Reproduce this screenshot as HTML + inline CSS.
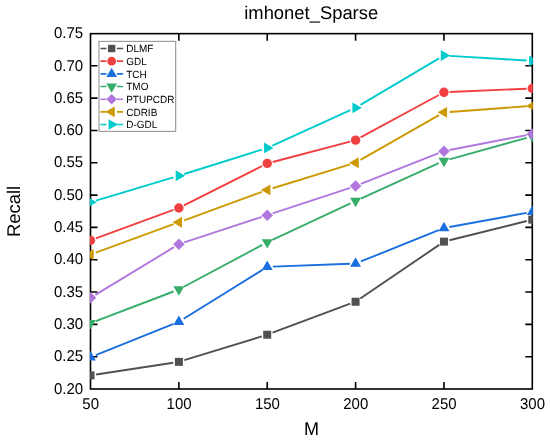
<!DOCTYPE html>
<html><head><meta charset="utf-8"><style>
html,body{margin:0;padding:0;background:#fff;}
svg{display:block;will-change:transform;text-rendering:geometricPrecision;font-family:"Liberation Sans",sans-serif;}
</style></head><body>
<svg width="550" height="440" viewBox="0 0 550 440">
<rect width="550" height="440" fill="#fff"/>
<defs><clipPath id="c"><rect x="89.95" y="32.95" width="442.90" height="356.60"/></clipPath></defs>
<rect x="90.5" y="33.65" width="441.80" height="355.35" fill="none" stroke="#000" stroke-width="1.6"/>
<path d="M178.86 389.0V382.0M178.86 33.65V40.65" stroke="#000" stroke-width="1.6"/>
<path d="M267.22 389.0V382.0M267.22 33.65V40.65" stroke="#000" stroke-width="1.6"/>
<path d="M355.58 389.0V382.0M355.58 33.65V40.65" stroke="#000" stroke-width="1.6"/>
<path d="M443.94 389.0V382.0M443.94 33.65V40.65" stroke="#000" stroke-width="1.6"/>
<path d="M90.5 356.68H97.5M532.3 356.68H525.3" stroke="#000" stroke-width="1.6"/>
<path d="M90.5 324.36H97.5M532.3 324.36H525.3" stroke="#000" stroke-width="1.6"/>
<path d="M90.5 292.05H97.5M532.3 292.05H525.3" stroke="#000" stroke-width="1.6"/>
<path d="M90.5 259.73H97.5M532.3 259.73H525.3" stroke="#000" stroke-width="1.6"/>
<path d="M90.5 227.41H97.5M532.3 227.41H525.3" stroke="#000" stroke-width="1.6"/>
<path d="M90.5 195.09H97.5M532.3 195.09H525.3" stroke="#000" stroke-width="1.6"/>
<path d="M90.5 162.77H97.5M532.3 162.77H525.3" stroke="#000" stroke-width="1.6"/>
<path d="M90.5 130.45H97.5M532.3 130.45H525.3" stroke="#000" stroke-width="1.6"/>
<path d="M90.5 98.14H97.5M532.3 98.14H525.3" stroke="#000" stroke-width="1.6"/>
<path d="M90.5 65.82H97.5M532.3 65.82H525.3" stroke="#000" stroke-width="1.6"/>
<g clip-path="url(#c)">
<path d="M96.13 374.56L173.23 362.72M184.31 360.18L261.77 336.38M272.56 332.71L350.24 303.73M360.29 298.53L439.23 244.84M449.47 240.25L526.77 221.03" stroke="#515151" stroke-width="1.9" fill="none"/>
<rect x="86.50" y="371.43" width="8.00" height="8.00" fill="#515151"/>
<rect x="174.86" y="357.85" width="8.00" height="8.00" fill="#515151"/>
<rect x="263.22" y="330.71" width="8.00" height="8.00" fill="#515151"/>
<rect x="351.58" y="297.74" width="8.00" height="8.00" fill="#515151"/>
<rect x="439.94" y="237.63" width="8.00" height="8.00" fill="#515151"/>
<rect x="528.30" y="215.65" width="8.00" height="8.00" fill="#515151"/>
<path d="M95.85 238.38L173.51 209.98M183.95 205.45L262.13 165.99M272.73 161.97L350.07 141.60M360.59 137.44L438.93 95.03M449.63 92.07L526.61 88.69" stroke="#F14040" stroke-width="1.9" fill="none"/>
<circle cx="90.50" cy="240.34" r="4.7" fill="#F14040"/>
<circle cx="178.86" cy="208.02" r="4.7" fill="#F14040"/>
<circle cx="267.22" cy="163.42" r="4.7" fill="#F14040"/>
<circle cx="355.58" cy="140.15" r="4.7" fill="#F14040"/>
<circle cx="443.94" cy="92.32" r="4.7" fill="#F14040"/>
<circle cx="532.30" cy="88.44" r="4.7" fill="#F14040"/>
<path d="M95.79 355.20L173.57 323.91M183.70 318.77L262.38 269.85M272.92 266.63L349.88 263.81M360.87 261.48L438.65 230.18M449.55 227.03L526.69 212.92" stroke="#1A6FDF" stroke-width="1.9" fill="none"/>
<path d="M90.50 351.04L95.95 360.47L85.05 360.47Z" fill="#1A6FDF"/>
<path d="M178.86 315.49L184.31 324.92L173.41 324.92Z" fill="#1A6FDF"/>
<path d="M267.22 260.54L272.67 269.98L261.77 269.98Z" fill="#1A6FDF"/>
<path d="M355.58 257.31L361.03 266.75L350.13 266.75Z" fill="#1A6FDF"/>
<path d="M443.94 221.76L449.39 231.20L438.49 231.20Z" fill="#1A6FDF"/>
<path d="M532.30 205.60L537.75 215.04L526.85 215.04Z" fill="#1A6FDF"/>
<path d="M95.83 321.04L173.53 291.49M183.89 286.78L262.19 244.96M272.38 239.86L350.42 203.32M360.77 198.55L438.75 163.19M449.43 159.31L526.81 137.80" stroke="#37AD6B" stroke-width="1.9" fill="none"/>
<path d="M90.50 329.36L95.95 319.92L85.05 319.92Z" fill="#37AD6B"/>
<path d="M178.86 295.75L184.31 286.31L173.41 286.31Z" fill="#37AD6B"/>
<path d="M267.22 248.57L272.67 239.13L261.77 239.13Z" fill="#37AD6B"/>
<path d="M355.58 207.20L361.03 197.76L350.13 197.76Z" fill="#37AD6B"/>
<path d="M443.94 167.13L449.39 157.69L438.49 157.69Z" fill="#37AD6B"/>
<path d="M532.30 142.56L537.75 133.13L526.85 133.13Z" fill="#37AD6B"/>
<path d="M95.37 294.90L173.99 247.17M184.27 242.43L261.81 216.91M272.63 213.35L350.17 187.82M360.88 183.95L438.64 153.23M449.54 150.05L526.70 135.09" stroke="#B177DE" stroke-width="1.9" fill="none"/>
<path d="M90.50 292.11L96.25 297.86L90.50 303.61L84.75 297.86Z" fill="#B177DE"/>
<path d="M178.86 238.46L184.61 244.21L178.86 249.96L173.11 244.21Z" fill="#B177DE"/>
<path d="M267.22 209.38L272.97 215.13L267.22 220.88L261.47 215.13Z" fill="#B177DE"/>
<path d="M355.58 180.29L361.33 186.04L355.58 191.79L349.83 186.04Z" fill="#B177DE"/>
<path d="M443.94 145.39L449.69 151.14L443.94 156.89L438.19 151.14Z" fill="#B177DE"/>
<path d="M532.30 128.26L538.05 134.01L532.30 139.76L526.55 134.01Z" fill="#B177DE"/>
<path d="M95.85 252.60L173.51 224.20M184.21 220.28L261.87 191.88M272.67 188.25L350.13 164.45M360.53 159.95L438.99 115.18M449.62 111.94L526.62 106.31" stroke="#CC9900" stroke-width="1.9" fill="none"/>
<path d="M84.21 254.56L93.65 260.01L93.65 249.11Z" fill="#CC9900"/>
<path d="M172.57 222.24L182.01 227.69L182.01 216.79Z" fill="#CC9900"/>
<path d="M260.93 189.92L270.37 195.37L270.37 184.47Z" fill="#CC9900"/>
<path d="M349.29 162.77L358.73 168.22L358.73 157.32Z" fill="#CC9900"/>
<path d="M437.65 112.36L447.09 117.81L447.09 106.91Z" fill="#CC9900"/>
<path d="M526.01 105.89L535.45 111.34L535.45 100.44Z" fill="#CC9900"/>
<path d="M95.96 200.56L173.40 177.34M184.30 173.99L261.78 149.62M272.41 145.55L350.39 110.19M360.48 104.93L439.04 58.38M449.63 55.83L526.61 60.56" stroke="#00CBCC" stroke-width="1.9" fill="none"/>
<path d="M96.79 202.20L87.35 207.65L87.35 196.75Z" fill="#00CBCC"/>
<path d="M185.15 175.70L175.71 181.15L175.71 170.25Z" fill="#00CBCC"/>
<path d="M273.51 147.91L264.07 153.36L264.07 142.46Z" fill="#00CBCC"/>
<path d="M361.87 107.83L352.43 113.28L352.43 102.38Z" fill="#00CBCC"/>
<path d="M450.23 55.48L440.79 60.93L440.79 50.03Z" fill="#00CBCC"/>
<path d="M538.59 60.91L529.15 66.36L529.15 55.46Z" fill="#00CBCC"/>
</g>
<rect x="99" y="41.4" width="76.65" height="90" fill="#fff" stroke="#9a9a9a" stroke-width="1.15"/>
<path d="M100.5 48.50H106.45M116.85 48.50H123.1" stroke="#515151" stroke-width="1.6"/>
<rect x="107.97" y="44.82" width="7.36" height="7.36" fill="#515151"/>
<text transform="translate(126.20 52.35) scale(1 1.04)" font-size="10">DLMF</text>
<path d="M100.5 61.17H106.45M116.85 61.17H123.1" stroke="#F14040" stroke-width="1.6"/>
<circle cx="111.65" cy="61.17" r="4.324000000000001" fill="#F14040"/>
<text transform="translate(126.20 65.02) scale(1 1.04)" font-size="10">GDL</text>
<path d="M100.5 73.84H106.45M116.85 73.84H123.1" stroke="#1A6FDF" stroke-width="1.6"/>
<path d="M111.65 67.67L116.99 76.92L106.31 76.92Z" fill="#1A6FDF"/>
<text transform="translate(126.20 77.69) scale(1 1.04)" font-size="10">TCH</text>
<path d="M100.5 86.51H106.45M116.85 86.51H123.1" stroke="#37AD6B" stroke-width="1.6"/>
<path d="M111.65 92.68L116.99 83.43L106.31 83.43Z" fill="#37AD6B"/>
<text transform="translate(126.20 90.36) scale(1 1.04)" font-size="10">TMO</text>
<path d="M100.5 99.18H106.45M116.85 99.18H123.1" stroke="#B177DE" stroke-width="1.6"/>
<path d="M111.65 93.89L116.94 99.18L111.65 104.47L106.36 99.18Z" fill="#B177DE"/>
<text transform="translate(126.20 103.03) scale(1 1.04)" font-size="10">PTUPCDR</text>
<path d="M100.5 111.85H106.45M116.85 111.85H123.1" stroke="#CC9900" stroke-width="1.6"/>
<path d="M105.48 111.85L114.73 117.19L114.73 106.51Z" fill="#CC9900"/>
<text transform="translate(126.20 115.70) scale(1 1.04)" font-size="10">CDRIB</text>
<path d="M100.5 124.52H106.45M116.85 124.52H123.1" stroke="#00CBCC" stroke-width="1.6"/>
<path d="M117.82 124.52L108.57 129.86L108.57 119.18Z" fill="#00CBCC"/>
<text transform="translate(126.20 128.37) scale(1 1.04)" font-size="10">D-GDL</text>
<g fill="#000">
<text transform="translate(83.20 393.70) scale(1 1.04)" text-anchor="end" font-size="15">0.20</text>
<text transform="translate(83.20 361.38) scale(1 1.04)" text-anchor="end" font-size="15">0.25</text>
<text transform="translate(83.20 329.06) scale(1 1.04)" text-anchor="end" font-size="15">0.30</text>
<text transform="translate(83.20 296.75) scale(1 1.04)" text-anchor="end" font-size="15">0.35</text>
<text transform="translate(83.20 264.43) scale(1 1.04)" text-anchor="end" font-size="15">0.40</text>
<text transform="translate(83.20 232.11) scale(1 1.04)" text-anchor="end" font-size="15">0.45</text>
<text transform="translate(83.20 199.79) scale(1 1.04)" text-anchor="end" font-size="15">0.50</text>
<text transform="translate(83.20 167.47) scale(1 1.04)" text-anchor="end" font-size="15">0.55</text>
<text transform="translate(83.20 135.15) scale(1 1.04)" text-anchor="end" font-size="15">0.60</text>
<text transform="translate(83.20 102.84) scale(1 1.04)" text-anchor="end" font-size="15">0.65</text>
<text transform="translate(83.20 70.52) scale(1 1.04)" text-anchor="end" font-size="15">0.70</text>
<text transform="translate(83.20 38.20) scale(1 1.04)" text-anchor="end" font-size="15">0.75</text>
<text transform="translate(90.70 408.60) scale(1 1.04)" text-anchor="middle" font-size="15">50</text>
<text transform="translate(179.06 408.60) scale(1 1.04)" text-anchor="middle" font-size="15">100</text>
<text transform="translate(267.42 408.60) scale(1 1.04)" text-anchor="middle" font-size="15">150</text>
<text transform="translate(355.78 408.60) scale(1 1.04)" text-anchor="middle" font-size="15">200</text>
<text transform="translate(444.14 408.60) scale(1 1.04)" text-anchor="middle" font-size="15">250</text>
<text transform="translate(532.50 408.60) scale(1 1.04)" text-anchor="middle" font-size="15">300</text>
<text transform="translate(311.60 435.30) scale(1 1.04)" text-anchor="middle" font-size="18">M</text>
<text transform="translate(20.00 211.40) rotate(-90) scale(1 1.0)" text-anchor="middle" font-size="18.4">Recall</text>
<text transform="translate(311.20 18.60) scale(1 1.0)" text-anchor="middle" font-size="18.4">imhonet_Sparse</text>
</g>
</svg>
</body></html>
